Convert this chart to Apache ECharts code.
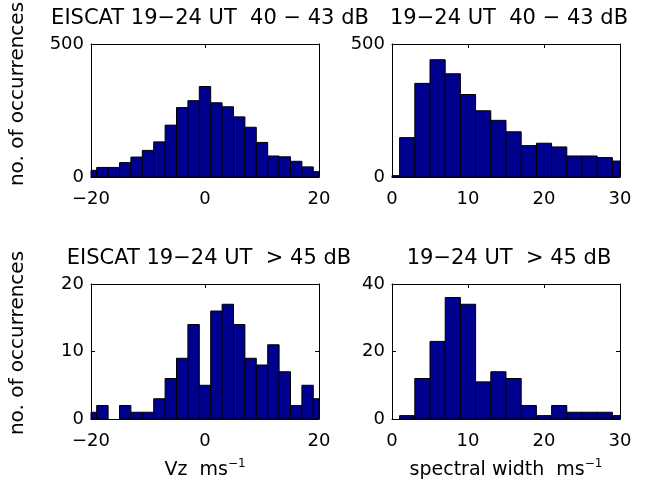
<!DOCTYPE html>
<html><head><meta charset="utf-8">
<script src="https://cdn.jsdelivr.net/npm/echarts@6/dist/echarts.min.js"></script>
<style>html,body{margin:0;padding:0;background:#fff}#c{width:646px;height:485px}</style>
</head><body><div id="c"></div>
<script>
// ---- data ----
const binWidth = 2;
const vzCenters = [-20,-18,-16,-14,-12,-10,-8,-6,-4,-2,0,2,4,6,8,10,12,14,16,18,20];
const vzCountsLow = [25,36,36,54,75,100,132,195,261,287,340,279,264,226,187,130,79,76,59,38,20];
const vzCountsHigh = [1,2,0,2,1,1,3,6,9,14,5,16,17,14,9,8,11,7,2,5,3];
const swCenters = [0,2,4,6,8,10,12,14,16,18,20,22,24,26,28,30];
const swCountsLow = [5,148,352,441,388,310,249,213,170,118,127,113,79,79,73,60];
const swCountsHigh = [0,1,12,23,36,34,11,14,12,4,1,4,2,2,2,1];
const vzTicks = [-20,0,20];
const swTicks = [0,10,20,30];
const yTicksLow = [0,500];
const yTicksVzHigh = [0,10,20];
const yTicksSwHigh = [0,20,40];
const titles = ['EISCAT 19\u221224 UT  40 \u2212 43 dB','19\u221224 UT  40 \u2212 43 dB','EISCAT 19\u221224 UT  > 45 dB','19\u221224 UT  > 45 dB'];
const yLabel = 'no. of occurrences';
const xLabelVz = ['Vz  ms','\u22121'];
const xLabelSw = ['spectral width  ms','\u22121'];

// ---- chart ----
const F = 'DejaVu Sans';
const BAR = '#00008F';
const panels = [
  {left:91, top:44, width:228, height:133, centers:vzCenters, counts:vzCountsLow, xt:vzTicks, yt:yTicksLow, title:titles[0], tx:210, ty:19},
  {left:392, top:44, width:228, height:133, centers:swCenters, counts:swCountsLow, xt:swTicks, yt:yTicksLow, title:titles[1], tx:509, ty:19},
  {left:91, top:284, width:228, height:135, centers:vzCenters, counts:vzCountsHigh, xt:vzTicks, yt:yTicksVzHigh, title:titles[2], tx:209, ty:259},
  {left:392, top:284, width:228, height:135, centers:swCenters, counts:swCountsHigh, xt:swTicks, yt:yTicksSwHigh, title:titles[3], tx:509, ty:259}
];

function renderHist(params, api) {
  const c = api.value(0), v = api.value(1);
  if (!v) return null;
  const p0 = api.coord([c - binWidth / 2, 0]);
  const p1 = api.coord([c + binWidth / 2, v]);
  const shape = echarts.graphic.clipRectByRect(
    {x: p0[0], y: p1[1], width: p1[0] - p0[0], height: p0[1] - p1[1]}, params.coordSys);
  if (!shape) return null;
  return {type: 'rect', shape: shape, style: {fill: BAR, stroke: '#000', lineWidth: 1}};
}

const fmt = v => String(v).replace('-', '\u2212');
const grid = [], xAxis = [], yAxis = [], series = [], graphic = [];
panels.forEach((p, i) => {
  grid.push({left: p.left, top: p.top, width: p.width, height: p.height, show: false});
  const xr = {min: p.xt[0], max: p.xt[p.xt.length - 1], interval: p.xt[1] - p.xt[0]};
  const yr = {min: p.yt[0], max: p.yt[p.yt.length - 1], interval: p.yt[1] - p.yt[0]};
  const common = {
    type: 'value', gridIndex: i, scale: false,
    axisLine: {show: true, onZero: false, lineStyle: {color: '#000', width: 1}},
    axisTick: {show: true, inside: true, length: 4, lineStyle: {color: '#000', width: 1}},
    splitLine: {show: false}
  };
  const lbl = {show: true, color: '#000', fontFamily: F, fontSize: 18, formatter: fmt};
  xAxis.push(Object.assign({}, common, xr, {position: 'bottom', axisLabel: Object.assign({}, lbl, {margin: 13})}));
  xAxis.push(Object.assign({}, common, xr, {position: 'top', axisLabel: {show: false}}));
  yAxis.push(Object.assign({}, common, yr, {position: 'left', axisLabel: Object.assign({}, lbl, {margin: 7})}));
  yAxis.push(Object.assign({}, common, yr, {position: 'right', axisLabel: {show: false}}));
  series.push({
    type: 'custom', xAxisIndex: 2 * i, yAxisIndex: 2 * i, silent: true,
    data: p.centers.map((c, k) => [c, p.counts[k]]),
    renderItem: renderHist
  });
  graphic.push({type: 'text', x: p.tx, y: p.ty, silent: true,
    style: {text: p.title, fill: '#000', font: '21px "' + F + '"', align: 'center', verticalAlign: 'middle'}});
});

[94, 343].forEach(yc => {
  graphic.push({type: 'text', x: 18, y: yc, rotation: Math.PI / 2, silent: true,
    style: {text: yLabel, fill: '#000', font: '20px "' + F + '"', align: 'center', verticalAlign: 'middle'}});
});

[[205, xLabelVz], [506, xLabelSw]].forEach(([xc, parts]) => {
  graphic.push({type: 'text', x: xc, y: 470, silent: true,
    style: {
      text: '{m|' + parts[0] + '}{s|' + parts[1] + '}',
      align: 'center', verticalAlign: 'middle',
      rich: {
        m: {fontFamily: F, fontSize: 19, lineHeight: 24, fill: '#000', color: '#000'},
        s: {fontFamily: F, fontSize: 12, lineHeight: 12, verticalAlign: 'top', fill: '#000', color: '#000'}
      }
    }});
});

const chart = echarts.init(document.getElementById('c'), null, {renderer: 'canvas'});
chart.setOption({
  animation: false,
  backgroundColor: '#fff',
  grid: grid, xAxis: xAxis, yAxis: yAxis, series: series, graphic: graphic
});
</script></body></html>
